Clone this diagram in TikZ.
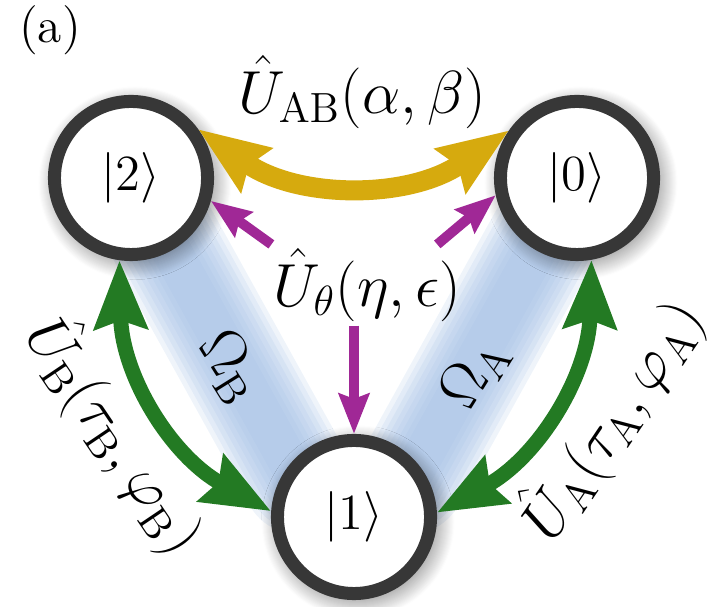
\documentclass[tikz,border=0pt]{standalone}
\usepackage{amsmath}
\usetikzlibrary{arrows.meta,positioning,shadows.blur,backgrounds}
\definecolor{ringgray}{RGB}{55,55,55}
\definecolor{bandblue}{RGB}{160,189,228}
\definecolor{goldarr}{RGB}{214,170,14}
\definecolor{greenarr}{RGB}{35,122,35}
\definecolor{magarr}{RGB}{160,40,150}

\begin{document}
\begin{tikzpicture}[
    x=0.01cm, y=0.01cm,
    state/.style={circle, draw=ringgray, line width=0.13cm, fill=white, minimum size=1.53cm, inner sep=0pt,
        font=\fontsize{15.5}{18}\selectfont,
        blur shadow={shadow xshift=0.04cm, shadow yshift=-0.05cm, shadow blur radius=0.2cm, shadow blur steps=20, shadow opacity=60}},
    lbl/.style={inner sep=1pt, font=\fontsize{17}{20}\selectfont},
    band/.style={line cap=round, draw=bandblue},
    swap/.style={{Stealth[length=0.7cm,width=0.52cm,inset=0.08cm]}-{Stealth[length=0.7cm,width=0.52cm,inset=0.08cm]},
        line width=0.2cm, draw=goldarr},
    rabi/.style={{Stealth[length=0.68cm,width=0.52cm,inset=0.08cm]}-{Stealth[length=0.68cm,width=0.52cm,inset=0.08cm]},
        line width=0.15cm, draw=greenarr},
    kick/.style={-{Stealth[length=0.4cm,width=0.3cm,inset=0.05cm]}, line width=0.1cm, draw=magarr}
]
\useasboundingbox (0,0) rectangle (710,607);

\node[font=\fontsize{14}{16}\selectfont] (tag) at (50,577) {(a)};

\node[state] (s2) at (131,429) {$|2\rangle$};
\node[state] (s0) at (577,429) {$|0\rangle$};
\node[state] (s1) at (354,90) {$|1\rangle$};

\coordinate (fB) at (298,128);
\coordinate (fA) at (410,128);

\begin{scope}[on background layer]
\foreach \w in {1.1, 1.0, 0.9, 0.8, 0.7, 0.6, 0.5, 0.4} {
    \draw[band, line width=\w cm, opacity=0.17] (s2.center) -- (fB);
    \draw[band, line width=\w cm, opacity=0.17] (s0.center) -- (fA);
}
\end{scope}

\node[lbl] (uab) at (362,515) {$\hat U_{\mathrm{AB}}(\alpha,\beta)$};
\node[lbl] (th) at (367,322) {$\hat U_{\theta}(\eta,\epsilon)$};
\node[lbl, rotate=-58] (omb) at (230,240) {$\Omega_{\mathrm{B}}$};
\node[lbl, rotate=58] (oma) at (475,234) {$\Omega_{\mathrm{A}}$};
\node[lbl, rotate=-56] (ub) at (116,172) {$\hat U_{\mathrm{B}}(\tau_{\mathrm{B}},\varphi_{\mathrm{B}})$};
\node[lbl, rotate=56] (ua) at (611,188) {$\hat U_{\mathrm{A}}(\tau_{\mathrm{A}},\varphi_{\mathrm{A}})$};

\draw[swap] (s2.36) to[bend right=35] (s0.145);
\draw[rabi] (s2.-98) to[bend right=30] (s1.176);
\draw[rabi] (s0.-80) to[bend left=30] (s1.3);

\draw[kick] (th.157) -- (s2.-16);
\draw[kick] (th.30) -- (s0.-168);
\draw[kick] (th.south -| s1.north) -- (s1.north);
\end{tikzpicture}
\end{document}
